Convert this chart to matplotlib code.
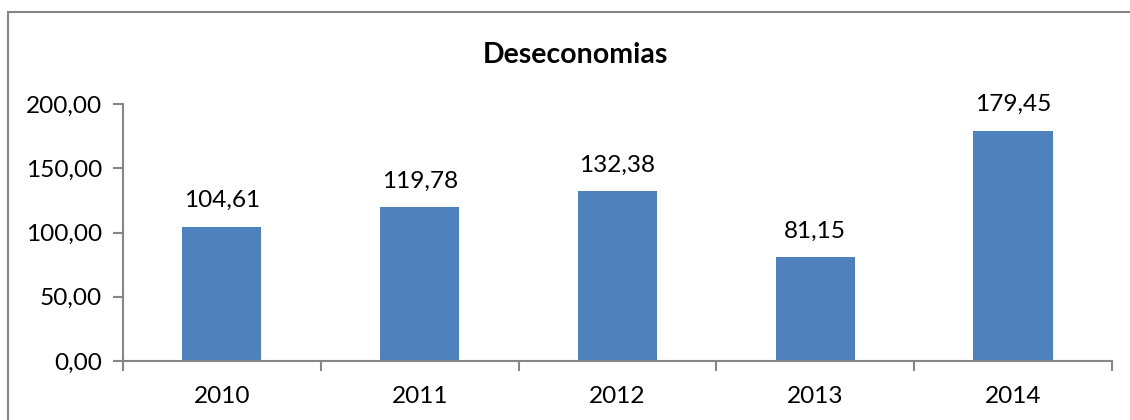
import numpy as np
import matplotlib.pyplot as plt
from matplotlib.patches import Rectangle

plt.rcParams['font.family'] = ['Lato', 'DejaVu Sans']

years = ['2010', '2011', '2012', '2013', '2014']
values = [104.61, 119.78, 132.38, 81.15, 179.45]
yticks = [0, 50, 100, 150, 200]

bar_color = '#4F81BD'
gray = '#868686'

fig = plt.figure(figsize=(11.3, 4.2), dpi=100)
ax = fig.add_axes([0.1088, 0.1405, 0.8752, 0.6115])

x = np.arange(len(years))
ax.bar(x, values, width=0.4, color=bar_color)
for xi, v in zip(x, values):
    ax.text(xi, v + 12, f'{v:.2f}'.replace('.', ','), ha='center', va='bottom', fontsize=17.6)

ax.set_xlim(-0.5, len(years) - 0.5)
ax.set_ylim(0, 200)
ax.set_yticks(yticks)
ax.set_yticklabels([f'{t:.2f}'.replace('.', ',') for t in yticks], fontsize=17.6)
ax.set_xticks(x)
ax.set_xticklabels(years, fontsize=17.6)
ax.tick_params(axis='x', length=0, pad=18)
ax.set_xticks(np.arange(-0.5, len(years)), minor=True)
ax.tick_params(axis='x', which='minor', length=7, color=gray, width=1.5, direction='out')
ax.tick_params(axis='y', length=7, color=gray, width=1.5, pad=8)

for s in ['top', 'right']:
    ax.spines[s].set_visible(False)
for s in ['left', 'bottom']:
    ax.spines[s].set_color(gray)
    ax.spines[s].set_linewidth(1.5)

fig.text(0.509, 0.869, 'Deseconomias', ha='center', va='center', fontsize=20.5, fontweight='bold')

fig.patches.append(Rectangle((8 / 1130, -0.1), 1.2, 1.1 - 12 / 420, transform=fig.transFigure,
                             fill=False, edgecolor=gray, linewidth=1.5))

fig.savefig('out.png', dpi=100)
